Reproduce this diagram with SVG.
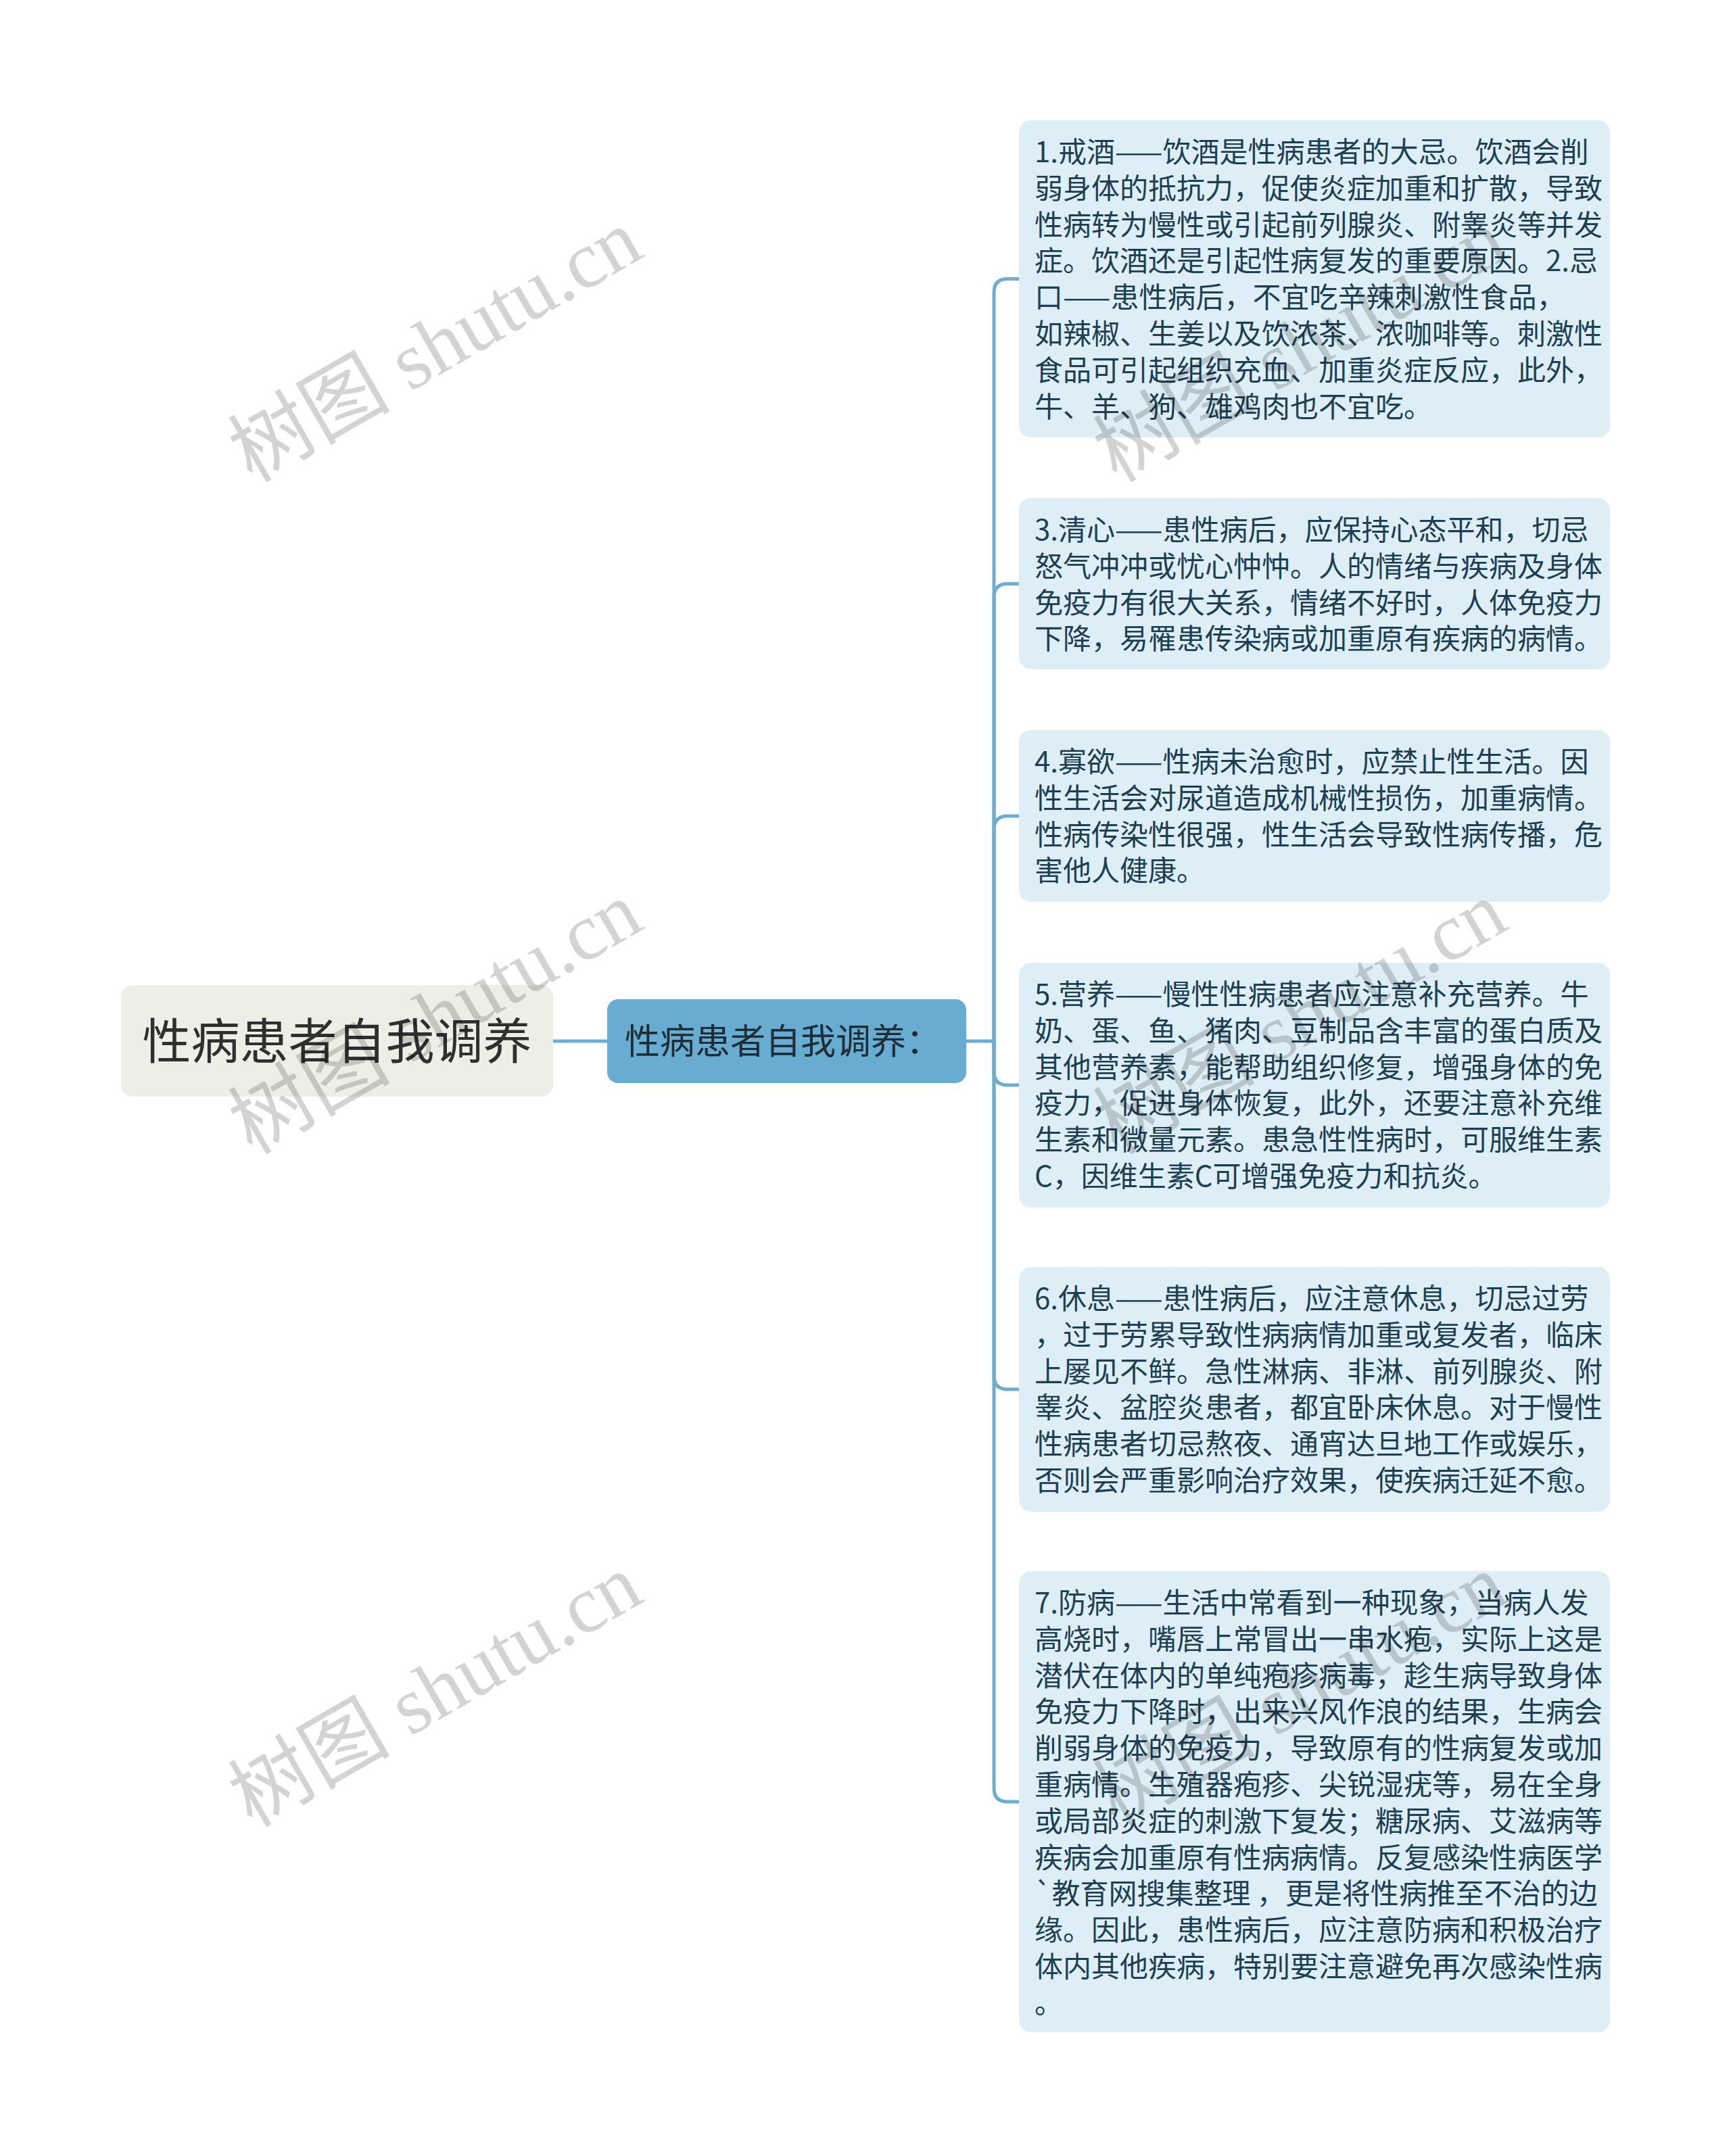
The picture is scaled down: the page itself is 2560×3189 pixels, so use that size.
<svg xmlns="http://www.w3.org/2000/svg" width="2560" height="3189" viewBox="0 0 2560 3189">
<style>
.bg{fill:#ffffff}
.root-box{fill:#eeeee6}
.mid-box{fill:#68add1}
.leaf-box{fill:#deeef6}
.root-text{font-family:"Noto Sans CJK SC","Noto Sans",sans-serif;font-size:72px;fill:#2f2f2f}
.mid-text{font-family:"Noto Sans CJK SC","Noto Sans",sans-serif;font-size:52px;fill:#1f2d36}
.leaf-text{font-family:"Noto Sans CJK SC","Noto Sans",sans-serif;font-size:42px;fill:#1d3f53}
.conn{fill:none;stroke:#6aaed3;stroke-width:5;stroke-linecap:round;stroke-linejoin:round}
.wm{font-family:"Liberation Serif","Noto Sans CJK SC",serif;font-size:120px;fill:#000;opacity:0.17}
</style>
<rect class="bg" x="0" y="0" width="2560" height="3189"/>
<g id="connectors">
<path class="conn" d="M818 1540 H898"/>
<path class="conn" d="M1429 1540 H1470 V432.5 Q1470 412.5 1490 412.5 H1507"/>
<path class="conn" d="M1470 1540 V883.5 Q1470 863.5 1490 863.5 H1507"/>
<path class="conn" d="M1470 1540 V1227 Q1470 1207 1490 1207 H1507"/>
<path class="conn" d="M1470 1540 V1585 Q1470 1605 1490 1605 H1507"/>
<path class="conn" d="M1470 1540 V2035 Q1470 2055 1490 2055 H1507"/>
<path class="conn" d="M1470 1540 V2645 Q1470 2665 1490 2665 H1507"/>
</g>
<g id="root">
<rect class="root-box" x="179" y="1457" width="639" height="165" rx="18"/>
<text class="root-text" x="498.5" y="1566" text-anchor="middle">性病患者自我调养</text>
</g>
<g id="mid">
<rect class="mid-box" x="898" y="1478" width="531" height="124" rx="16"/>
<text class="mid-text" x="924" y="1559">性病患者自我调养：</text>
</g>
<g id="leaf1">
<rect class="leaf-box" x="1507" y="178" width="874" height="469" rx="18"/>
<text class="leaf-text">
<tspan x="1530" y="240">1.戒酒——饮酒是性病患者的大忌。饮酒会削</tspan>
<tspan x="1530" y="293.8">弱身体的抵抗力，促使炎症加重和扩散，导致</tspan>
<tspan x="1530" y="347.6">性病转为慢性或引起前列腺炎、附睾炎等并发</tspan>
<tspan x="1530" y="401.4">症。饮酒还是引起性病复发的重要原因。2.忌</tspan>
<tspan x="1530" y="455.2">口——患性病后，不宜吃辛辣刺激性食品，</tspan>
<tspan x="1530" y="509">如辣椒、生姜以及饮浓茶、浓咖啡等。刺激性</tspan>
<tspan x="1530" y="562.8">食品可引起组织充血、加重炎症反应，此外，</tspan>
<tspan x="1530" y="616.6">牛、羊、狗、雄鸡肉也不宜吃。</tspan>
</text>
</g>
<g id="leaf2">
<rect class="leaf-box" x="1507" y="737" width="874" height="253" rx="18"/>
<text class="leaf-text">
<tspan x="1530" y="799">3.清心——患性病后，应保持心态平和，切忌</tspan>
<tspan x="1530" y="852.8">怒气冲冲或忧心忡忡。人的情绪与疾病及身体</tspan>
<tspan x="1530" y="906.6">免疫力有很大关系，情绪不好时，人体免疫力</tspan>
<tspan x="1530" y="960.4">下降，易罹患传染病或加重原有疾病的病情。</tspan>
</text>
</g>
<g id="leaf3">
<rect class="leaf-box" x="1507" y="1080" width="874" height="254" rx="18"/>
<text class="leaf-text">
<tspan x="1530" y="1142">4.寡欲——性病未治愈时，应禁止性生活。因</tspan>
<tspan x="1530" y="1195.8">性生活会对尿道造成机械性损伤，加重病情。</tspan>
<tspan x="1530" y="1249.6">性病传染性很强，性生活会导致性病传播，危</tspan>
<tspan x="1530" y="1303.4">害他人健康。</tspan>
</text>
</g>
<g id="leaf4">
<rect class="leaf-box" x="1507" y="1424" width="874" height="362" rx="18"/>
<text class="leaf-text">
<tspan x="1530" y="1486">5.营养——慢性性病患者应注意补充营养。牛</tspan>
<tspan x="1530" y="1539.8">奶、蛋、鱼、猪肉、豆制品含丰富的蛋白质及</tspan>
<tspan x="1530" y="1593.6">其他营养素，能帮助组织修复，增强身体的免</tspan>
<tspan x="1530" y="1647.4">疫力，促进身体恢复，此外，还要注意补充维</tspan>
<tspan x="1530" y="1701.2">生素和微量元素。患急性性病时，可服维生素</tspan>
<tspan x="1530" y="1755">C，因维生素C可增强免疫力和抗炎。</tspan>
</text>
</g>
<g id="leaf5">
<rect class="leaf-box" x="1507" y="1874" width="874" height="362" rx="18"/>
<text class="leaf-text">
<tspan x="1530" y="1936">6.休息——患性病后，应注意休息，切忌过劳</tspan>
<tspan x="1530" y="1989.8">，过于劳累导致性病病情加重或复发者，临床</tspan>
<tspan x="1530" y="2043.6">上屡见不鲜。急性淋病、非淋、前列腺炎、附</tspan>
<tspan x="1530" y="2097.4">睾炎、盆腔炎患者，都宜卧床休息。对于慢性</tspan>
<tspan x="1530" y="2151.2">性病患者切忌熬夜、通宵达旦地工作或娱乐，</tspan>
<tspan x="1530" y="2205">否则会严重影响治疗效果，使疾病迁延不愈。</tspan>
</text>
</g>
<g id="leaf6">
<rect class="leaf-box" x="1507" y="2324" width="874" height="682" rx="18"/>
<text class="leaf-text">
<tspan x="1530" y="2386">7.防病——生活中常看到一种现象，当病人发</tspan>
<tspan x="1530" y="2439.8">高烧时，嘴唇上常冒出一串水疱，实际上这是</tspan>
<tspan x="1530" y="2493.6">潜伏在体内的单纯疱疹病毒，趁生病导致身体</tspan>
<tspan x="1530" y="2547.4">免疫力下降时，出来兴风作浪的结果，生病会</tspan>
<tspan x="1530" y="2601.2">削弱身体的免疫力，导致原有的性病复发或加</tspan>
<tspan x="1530" y="2655">重病情。生殖器疱疹、尖锐湿疣等，易在全身</tspan>
<tspan x="1530" y="2708.8">或局部炎症的刺激下复发；糖尿病、艾滋病等</tspan>
<tspan x="1530" y="2762.6">疾病会加重原有性病病情。反复感染性病医学</tspan>
<tspan x="1530" y="2816.4">`教育网搜集整理 ，更是将性病推至不治的边</tspan>
<tspan x="1530" y="2870.2">缘。因此，患性病后，应注意防病和积极治疗</tspan>
<tspan x="1530" y="2924">体内其他疾病，特别要注意避免再次感染性病</tspan>
<tspan x="1530" y="2977.8">。</tspan>
</text>
</g>
<g id="watermarks">
<text class="wm" x="0" y="40" text-anchor="middle" transform="translate(644 512) rotate(-30)">树图 shutu.cn</text>
<text class="wm" x="0" y="40" text-anchor="middle" transform="translate(644 1506) rotate(-30)">树图 shutu.cn</text>
<text class="wm" x="0" y="40" text-anchor="middle" transform="translate(644 2501) rotate(-30)">树图 shutu.cn</text>
<text class="wm" x="0" y="40" text-anchor="middle" transform="translate(1923 512) rotate(-30)">树图 shutu.cn</text>
<text class="wm" x="0" y="40" text-anchor="middle" transform="translate(1923 1506) rotate(-30)">树图 shutu.cn</text>
<text class="wm" x="0" y="40" text-anchor="middle" transform="translate(1923 2501) rotate(-30)">树图 shutu.cn</text>
</g>
</svg>
